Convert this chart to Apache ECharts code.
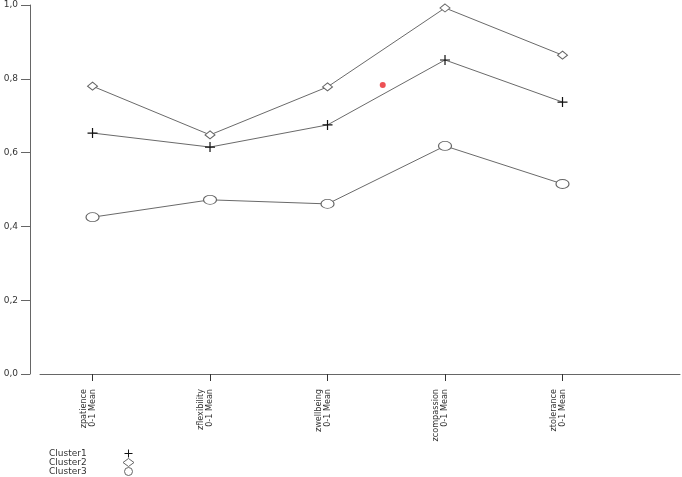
<!DOCTYPE html>
<html>
<head>
<meta charset="utf-8">
<script src="https://cdn.jsdelivr.net/npm/echarts@6/dist/echarts.min.js"></script>
<style>
    html, body { margin: 0; padding: 0; background: #fff; }
    #main { width: 682px; height: 477px; }
</style>
</head>
<body>
<div id="main"></div>
<script>
var categories = ['zpatience', 'zflexibility', 'zwellbeing', 'zcompassion', 'ztolerance'];
var cluster1 = [0.653, 0.615, 0.675, 0.851, 0.737];
var cluster2 = [0.780, 0.648, 0.778, 0.992, 0.864];
var cluster3 = [0.425, 0.472, 0.461, 0.618, 0.515];
var redDot = [[3.47, 0.783]];

var plusIcon = 'path://M4.4,0h1.2v10h-1.2zM0,4.4h10v1.2h-10z';

function toPoints(arr) {
    var out = [];
    for (var i = 0; i < arr.length; i++) {
        out.push([i + 1, arr[i]]);
    }
    return out;
}

var myChart = echarts.init(document.getElementById('main'));

var option = {
    animation: false,
    backgroundColor: '#fff',
    grid: { left: 40, right: 2, top: 5, bottom: 103 },
    xAxis: {
        type: 'value',
        min: 0.553,
        max: 6,
        offset: 7,
        splitLine: { show: false },
        axisLine: { lineStyle: { color: '#666', width: 1 } },
        axisTick: { length: 7, lineStyle: { color: '#333' }, customValues: [1, 2, 3, 4, 5] },
        axisLabel: {
            customValues: [1, 2, 3, 4, 5],
            rotate: 90,
            margin: 8,
            fontFamily: '"DejaVu Sans Condensed", "Liberation Sans Narrow", sans-serif',
            fontSize: 9,
            lineHeight: 9,
            verticalAlign: 'middle',
            color: '#333',
            formatter: function (v) {
                var c = categories[Math.round(v) - 1];
                // trailing blank line keeps "0-1 Mean" centred on the tick
                return c ? c + '\n0-1 Mean\n ' : '';
            }
        }
    },
    yAxis: {
        type: 'value',
        min: 0,
        max: 1,
        interval: 0.2,
        offset: 10,
        splitLine: { show: false },
        axisLine: { show: true, lineStyle: { color: '#666', width: 1 } },
        axisTick: { show: true, length: 9, lineStyle: { color: '#666' } },
        axisLabel: {
            margin: 12,
            fontFamily: 'DejaVu Sans',
            fontSize: 9,
            color: '#333',
            formatter: function (v) { return v.toFixed(1).replace('.', ','); }
        }
    },
    legend: {
        left: 49,
        bottom: 1,
        padding: 0,
        orient: 'vertical',
        align: 'right',
        itemGap: 0,
        itemWidth: 11,
        itemHeight: 8,
        itemStyle: { borderWidth: 1 },
        formatter: function (name) { return '{t|' + name + '}'; },
        textStyle: {
            fontFamily: 'DejaVu Sans', fontSize: 9, color: '#333',
            rich: { t: { width: 69, align: 'left', fontFamily: 'DejaVu Sans', fontSize: 9, color: '#333', lineHeight: 10 } }
        },
        data: [
            { name: 'Cluster1', icon: plusIcon },
            { name: 'Cluster2', icon: 'diamond' },
            { name: 'Cluster3', icon: 'circle' }
        ]
    },
    series: [
        {
            name: 'Cluster1',
            type: 'line',
            data: toPoints(cluster1),
            symbol: plusIcon,
            symbolSize: 10,
            itemStyle: { color: '#111' },
            lineStyle: { color: '#6a6a6a', width: 1 },
            z: 3
        },
        {
            name: 'Cluster2',
            type: 'line',
            data: toPoints(cluster2),
            symbol: 'diamond',
            symbolSize: [10, 8],
            itemStyle: { color: '#fff', borderColor: '#666', borderWidth: 1 },
            lineStyle: { color: '#6a6a6a', width: 1 }
        },
        {
            name: 'Cluster3',
            type: 'line',
            data: toPoints(cluster3),
            symbol: 'circle',
            symbolSize: [13, 9],
            itemStyle: { color: '#fff', borderColor: '#666', borderWidth: 1 },
            lineStyle: { color: '#6a6a6a', width: 1 }
        },
        {
            name: 'marker',
            type: 'scatter',
            data: redDot,
            symbol: 'circle',
            symbolSize: 6,
            itemStyle: { color: '#e8262a' }
        }
    ]
};
myChart.setOption(option);
</script>
</body>
</html>
